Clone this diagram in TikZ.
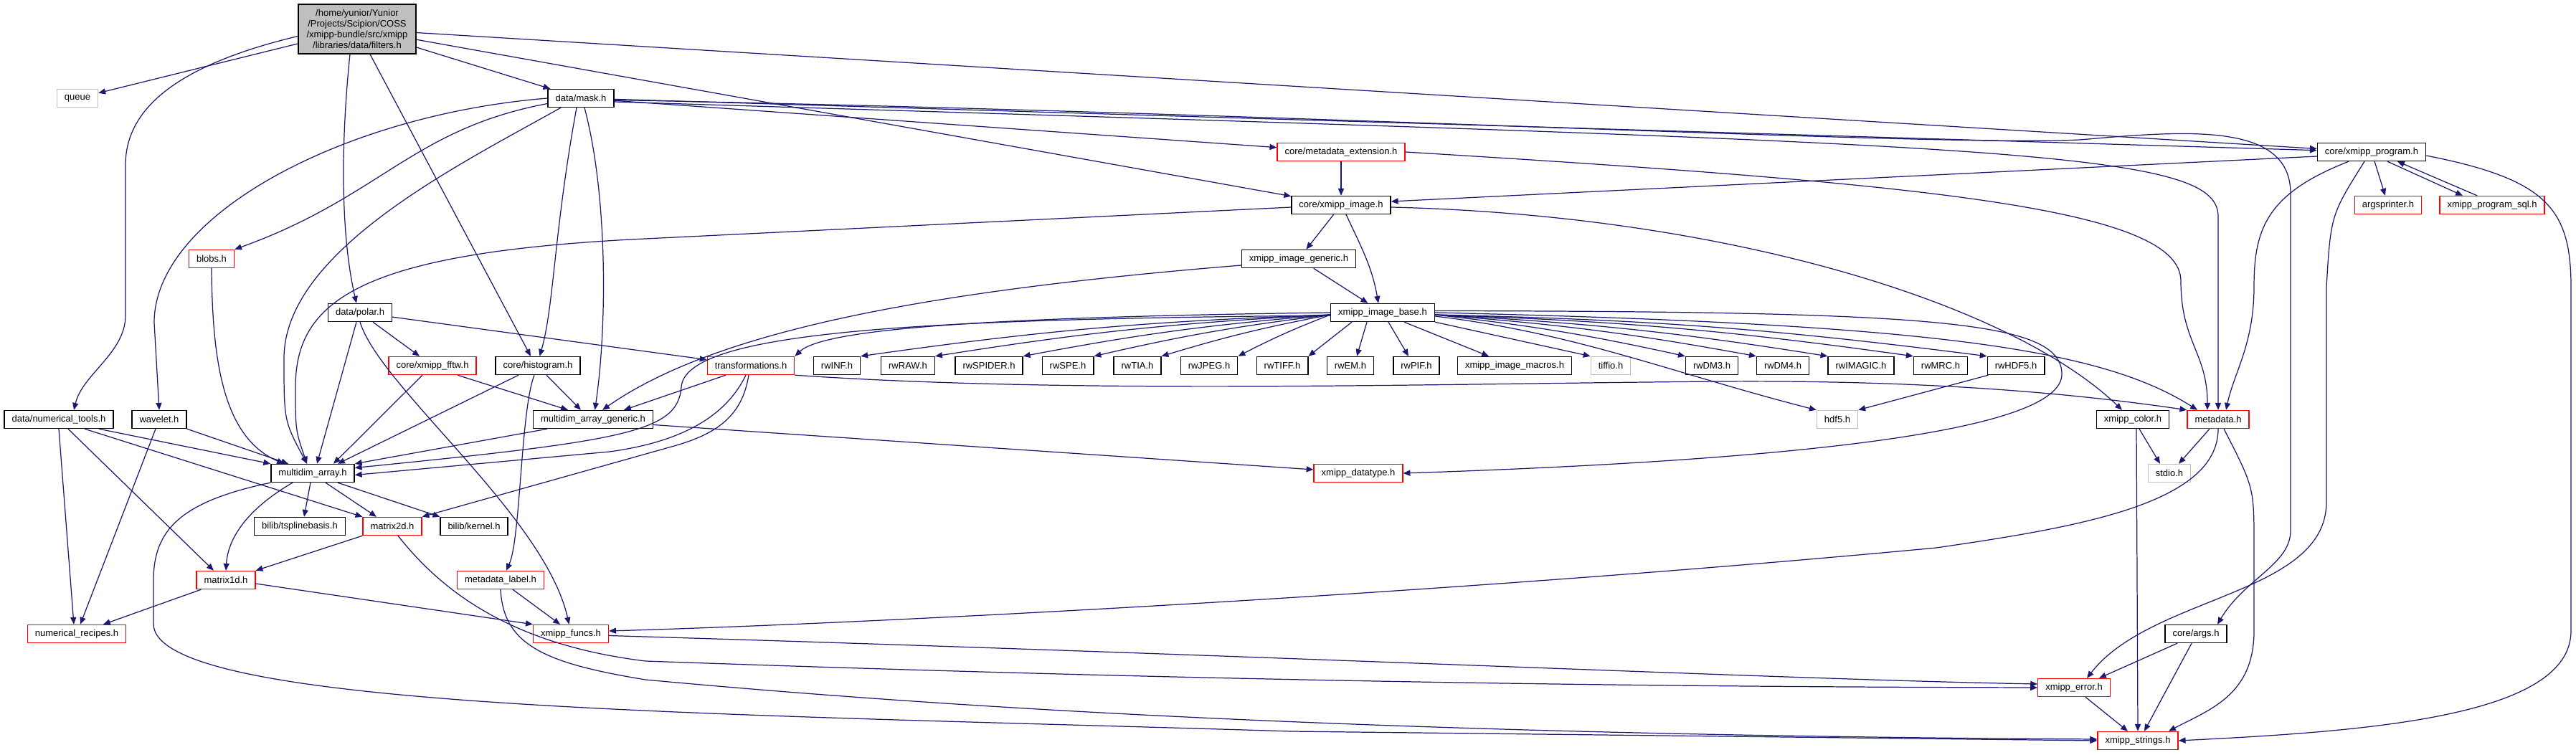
\documentclass[tikz,border=0pt]{standalone}
\usepackage{fontspec}
\setmainfont{Liberation Sans}
\usetikzlibrary{arrows.meta}
\definecolor{depline}{RGB}{25,25,112}
\definecolor{hdrgray}{RGB}{191,191,191}

\begin{document}
\begin{tikzpicture}[>={Stealth[length=5.6pt,width=4.6pt,inset=0pt]},
  font=\fontsize{7.4}{8.4}\selectfont,
  bx/.style={draw=black, line width=0.8pt, fill=white, minimum height=0.5cm,
    inner xsep=0.21cm, inner ysep=0pt},
  bxr/.style={bx, draw=red},
  bxg/.style={bx, draw=hdrgray},
  dep/.style={->, draw=depline, line width=0.7pt}]
\path[use as bounding box, fill=white] (0,0) rectangle (71.84,21.04);
% the file itself
\node[bx, fill=hdrgray, align=center, minimum width=3.28cm, minimum height=1.38cm]
  (root) at (9.96,20.23) {/home/yunior/Yunior\\/Projects/Scipion/COSS\\/xmipp-bundle/src/xmipp\\/libraries/data/filters.h};
% upper rows
\node[bxg] (queue) at (2.16,18.30) {queue};
\node[bx] (mask) at (16.20,18.30) {data/mask.h};
\node[bxr] (metaext) at (37.40,16.80) {core/metadata\_extension.h};
\node[bx] (program) at (66.14,16.80) {core/xmipp\_program.h};
\node[bx] (ximage) at (37.40,15.32) {core/xmipp\_image.h};
\node[bxr] (argsp) at (66.60,15.32) {argsprinter.h};
\node[bxr] (sql) at (69.50,15.32) {xmipp\_program\_sql.h};
\node[bxr] (blobs) at (5.90,13.82) {blobs.h};
\node[bx] (igen) at (36.22,13.82) {xmipp\_image\_generic.h};
\node[bx] (polar) at (10.04,12.32) {data/polar.h};
\node[bx] (ibase) at (38.56,12.32) {xmipp\_image\_base.h};
% row of readers
\node[bxr] (fftw) at (12.06,10.84) {core/xmipp\_fftw.h};
\node[bx] (hist) at (15.00,10.84) {core/histogram.h};
\node[bxr] (trans) at (20.94,10.84) {transformations.h};
\node[bx] (rwINF) at (23.34,10.84) {rwINF.h};
\node[bx] (rwRAW) at (25.32,10.84) {rwRAW.h};
\node[bx] (rwSPIDER) at (27.58,10.84) {rwSPIDER.h};
\node[bx] (rwSPE) at (29.78,10.84) {rwSPE.h};
\node[bx] (rwTIA) at (31.72,10.84) {rwTIA.h};
\node[bx] (rwJPEG) at (33.72,10.84) {rwJPEG.h};
\node[bx] (rwTIFF) at (35.76,10.84) {rwTIFF.h};
\node[bx] (rwEM) at (37.66,10.84) {rwEM.h};
\node[bx] (rwPIF) at (39.50,10.84) {rwPIF.h};
\node[bx] (macros) at (42.24,10.84) {xmipp\_image\_macros.h};
\node[bxg] (tiffio) at (44.92,10.84) {tiffio.h};
\node[bx] (rwDM3) at (47.74,10.84) {rwDM3.h};
\node[bx] (rwDM4) at (49.72,10.84) {rwDM4.h};
\node[bx] (rwIMAGIC) at (51.90,10.84) {rwIMAGIC.h};
\node[bx] (rwMRC) at (54.12,10.84) {rwMRC.h};
\node[bx] (rwHDF5) at (56.22,10.84) {rwHDF5.h};
% lower rows
\node[bx] (numtools) at (1.64,9.34) {data/numerical\_tools.h};
\node[bx] (wavelet) at (4.44,9.34) {wavelet.h};
\node[bx] (mdagen) at (16.54,9.34) {multidim\_array\_generic.h};
\node[bxg] (hdf5) at (51.24,9.34) {hdf5.h};
\node[bx] (color) at (59.48,9.34) {xmipp\_color.h};
\node[bxr] (metadata) at (61.86,9.34) {metadata.h};
\node[bx] (mda) at (8.72,7.84) {multidim\_array.h};
\node[bxr] (dtype) at (37.88,7.84) {xmipp\_datatype.h};
\node[bxg] (stdio) at (60.50,7.84) {stdio.h};
\node[bx] (tspline) at (8.36,6.36) {bilib/tsplinebasis.h};
\node[bxr] (m2d) at (10.94,6.36) {matrix2d.h};
\node[bx] (kernel) at (13.22,6.36) {bilib/kernel.h};
\node[bxr] (m1d) at (6.30,4.86) {matrix1d.h};
\node[bxr] (mdlabel) at (13.96,4.86) {metadata\_label.h};
\node[bxr] (numrec) at (2.14,3.36) {numerical\_recipes.h};
\node[bxr] (funcs) at (15.92,3.36) {xmipp\_funcs.h};
\node[bx] (args) at (61.24,3.36) {core/args.h};
\node[bxr] (error) at (57.84,1.86) {xmipp\_error.h};
\node[bxr] (strings) at (59.62,0.38) {xmipp\_strings.h};

% includes of filters.h
\draw[dep] (root) -- (queue);
\draw[dep] ([yshift=-0.2cm]root.west) .. controls (5.0,19.24) and (3.5,18.04) .. (3.5,16.44)
  -- (3.5,12.24) .. controls (3.5,11.2) and (2.3,10.6) .. ([xshift=0.42cm]numtools.north);
\draw[dep] ([xshift=-0.2cm]root.south) .. controls (9.5,17.0) and (9.5,14.5) .. ([xshift=-0.1cm]polar.north);
\draw[dep] ([xshift=0.36cm]root.south) -- ([xshift=-0.2cm]hist.north);
\draw[dep] (root) -- (mask);
\draw[dep] (root) -- (ximage);
\draw[dep] (root) -- (program);

% data/mask.h
\draw[dep] (mask.west) .. controls (9.6,17.84) and (4.3,15.04) .. (4.3,12.04) -- (wavelet.north);
\draw[dep] ([yshift=-0.15cm]mask.west) .. controls (11.5,17.44) and (10.6,15.54) .. (blobs.north east);
\draw[dep] ([xshift=-0.56cm]mask.south) .. controls (12.8,16.44) and (7.92,14.04) .. (7.92,11.04)
  .. controls (7.92,9.3) .. ([xshift=-0.16cm]mda.north);
\draw[dep] ([xshift=-0.12cm]mask.south) .. controls (15.45,14.6) and (15.45,12.5) .. ([xshift=0.05cm]hist.north);
\draw[dep] ([xshift=0.1cm]mask.south) .. controls (16.94,15.64) and (16.94,12.0) .. ([xshift=0.05cm]mdagen.north);
\draw[dep] (mask) -- (metaext);
\draw[dep] (mask) -- (program);
\draw[dep] ([yshift=-0.05cm]mask.east) .. controls (36,17.9) and (54,16.94) .. (58,17.14)
  .. controls (61,17.4) and (63.88,17.64) .. (63.88,15.64) -- (63.88,6.24)
  .. controls (63.88,5.3) and (62.6,4.9) .. ([xshift=0.6cm]args.north);
\draw[dep] ([yshift=-0.1cm]mask.east) .. controls (56,17.0) and (61.86,16.9) .. (61.86,15.0) -- (metadata.north);

% core/metadata_extension.h and core/xmipp_program.h
\draw[dep] (metaext) -- (ximage);
\draw[dep] (metaext.east) .. controls (54,15.9) and (60.82,15.2) .. (60.82,13.2)
  .. controls (60.82,11.5) and (61.56,11.2) .. ([xshift=-0.3cm]metadata.north);
\draw[dep] ([yshift=-0.12cm]program.west) -- ([yshift=0.1cm]ximage.east);
\draw[dep] (program) -- (argsp);
\draw[dep] ([xshift=0.44cm]program.south) -- ([xshift=-0.82cm]sql.north);
\draw[dep] ([xshift=-0.42cm]sql.north) -- ([xshift=0.72cm]program.south);
\draw[dep] ([xshift=-0.64cm]program.south) .. controls (63.2,15.64) and (62.86,14.64) .. (62.86,13.04)
  .. controls (62.86,11.44) and (62.3,10.64) .. ([xshift=0.22cm]metadata.north);
\draw[dep] ([xshift=-0.2cm]program.south) .. controls (65.0,15.04) .. (64.88,13.04) -- (64.88,7.04)
  .. controls (64.88,4.44) and (60,4.44) .. ([xshift=0.36cm]error.north);
\draw[dep] ([yshift=-0.1cm]program.east) .. controls (71.0,16.04) and (71.7,15.24) .. (71.7,13.04)
  -- (71.7,3.44) .. controls (71.7,1.04) and (66,0.64) .. (strings.east);

% core/xmipp_image.h
\draw[dep] (ximage) -- (igen);
\draw[dep] ([xshift=0.14cm]ximage.south) to[out=-65,in=100] ([xshift=-0.12cm]ibase.north);
\draw[dep] ([yshift=-0.06cm]ximage.west) -- (18,14.38) .. controls (10,14.0) and (8.24,12.64) .. (8.24,10.24)
  .. controls (8.24,9.04) .. ([xshift=-0.16cm]mda.north);
\draw[dep] ([yshift=-0.06cm]ximage.east) .. controls (48,15.04) and (56,12.64) .. ([xshift=-0.3cm]color.north);
\draw[dep] (igen) -- (ibase);
\draw[dep] ([yshift=-0.18cm]igen.west) .. controls (26,12.94) and (20,11.84) .. ([xshift=0.26cm]mdagen.north);

% xmipp_image_base.h fans out
\draw[dep] (ibase.west) .. controls (28,12.2) and (23.0,11.9) .. (trans.north east);
\foreach \n in {rwINF,rwRAW,rwSPIDER,rwSPE,rwTIA,rwJPEG}
  \draw[dep] ([yshift=-0.06cm]ibase.west) to[bend right=3] (\n.north east);
\draw[dep] ([xshift=0.6cm]ibase.south west) -- (rwTIFF.north east);
\draw[dep] ([xshift=-0.44cm]ibase.south) -- ([xshift=0.18cm]rwEM.north);
\draw[dep] ([xshift=0.16cm]ibase.south) -- ([xshift=-0.22cm]rwPIF.north);
\draw[dep] ([xshift=0.6cm]ibase.south) -- ([xshift=-0.72cm]macros.north);
\draw[dep] (ibase.south east) -- (tiffio.north west);
\foreach \n in {rwDM3,rwDM4,rwIMAGIC,rwMRC,rwHDF5}
  \draw[dep] ([yshift=-0.06cm]ibase.east) to[bend left=3] (\n.north west);
\draw[dep] ([yshift=-0.1cm]ibase.east) .. controls (44,11.74) and (46.6,10.64) .. (hdf5.north west);
\draw[dep] (ibase.east) .. controls (54,12.0) and (58.6,11.3) .. ([xshift=-0.58cm]metadata.north);
\draw[dep] ([yshift=0.05cm]ibase.east) .. controls (54,12.35) and (57.5,12.1) .. (57.5,10.6)
  .. controls (57.5,9.0) and (50,8.2) .. (dtype.east);
\draw[dep] ([yshift=-0.08cm]ibase.west) .. controls (26,12.14) and (19.1,11.84) .. (19,10.24)
  .. controls (18.9,9.0) and (17.5,8.75) .. ([yshift=0.15cm]mda.east);
\draw[dep] ([xshift=0.04cm]rwHDF5.south west) -- (hdf5.north east);

% data/polar.h, fftw, histogram
\draw[dep] (polar) -- (fftw);
\draw[dep] (polar) -- (trans);
\draw[dep] ([xshift=-0.1cm]polar.south) -- ([xshift=0.12cm]mda.north);
\draw[dep] (polar.south) .. controls (10.6,10.24) and (15.2,6.64) .. ([xshift=-0.05cm]funcs.north);
\draw[dep] ([xshift=-0.28cm]fftw.south) -- ([xshift=0.58cm]mda.north);
\draw[dep] ([xshift=0.7cm]fftw.south) -- ([xshift=-0.7cm]mdagen.north);
\draw[dep] ([xshift=-0.54cm]hist.south) -- ([xshift=0.7cm]mda.north);
\draw[dep] ([xshift=0.24cm]hist.south) -- ([xshift=-0.34cm]mdagen.north);
\draw[dep] ([xshift=-0.1cm]hist.south) .. controls (14.52,9.6) and (14.52,6.0) .. ([xshift=0.16cm]mdlabel.north);

% transformations.h
\draw[dep] ([xshift=-0.7cm]trans.south) -- ([xshift=0.86cm]mdagen.north);
\draw[dep] ([xshift=-0.14cm]trans.south) .. controls (20.3,9.54) and (19.2,8.74) .. (17,8.44)
  -- ([yshift=-0.05cm]mda.east);
\draw[dep] ([xshift=-0.06cm]trans.south) .. controls (20.7,9.44) and (20,8.94) .. (18.8,8.6) -- (m2d.north east);
\draw[dep] (trans.south east) .. controls (30,10.04) and (40,10.34) .. (48,10.4)
  .. controls (54,10.44) and (58,10.04) .. (metadata.north west);

% multidim arrays and friends
\draw[dep] ([xshift=-1.28cm]mdagen.south) -- (mda.north east);
\draw[dep] ([yshift=-0.15cm]mdagen.east) -- ([yshift=0.1cm]dtype.west);
\draw[dep] (blobs.south) .. controls (5.92,11.04) and (6.2,8.84) .. ([xshift=-0.8cm]mda.north);
\draw[dep] (numtools.south) -- ([xshift=-0.08cm]numrec.north);
\draw[dep] ([xshift=0.26cm]numtools.south) -- ([xshift=-0.34cm]m1d.north);
\draw[dep] ([xshift=1.12cm]numtools.south) -- (mda.north west);
\draw[dep] ([xshift=0.72cm]numtools.south) -- (m2d.north west);
\draw[dep] (wavelet.south east) -- ([xshift=-0.68cm]mda.north);
\draw[dep] ([xshift=-0.1cm]wavelet.south) -- ([xshift=0.1cm]numrec.north);
\draw[dep] ([xshift=-0.06cm]mda.south) -- ([xshift=0.12cm]tspline.north);
\draw[dep] ([xshift=0.36cm]mda.south) -- ([xshift=-0.44cm]m2d.north);
\draw[dep] ([xshift=0.7cm]mda.south) -- (kernel.north west);
\draw[dep] ([xshift=-0.56cm]mda.south) .. controls (6.9,6.84) and (6.36,6.04) .. (m1d.north);
\draw[dep] (mda.south west) .. controls (5,7.04) and (4.28,6.24) .. (4.28,4.84) -- (4.28,3.64)
  .. controls (4.28,1.24) and (20,1.14) .. (36,0.64) -- (strings.west);
\draw[dep] (m2d.south west) -- (m1d.north east);
\draw[dep] ([xshift=0.16cm]m2d.south) .. controls (12.4,4.44) and (14.4,3.04) .. (18,2.6)
  .. controls (36,1.96) and (48,1.88) .. (error.west);
\draw[dep] ([xshift=0.14cm]m1d.south west) -- ([xshift=0.74cm]numrec.north);
\draw[dep] ([yshift=-0.1cm]m1d.east) -- (funcs.north west);
\draw[dep] ([xshift=0.34cm]mdlabel.south) -- ([xshift=-0.3cm]funcs.north);
\draw[dep] (mdlabel.south) .. controls (14.04,3.04) and (15.2,2.54) .. (18,2.08)
  .. controls (26,1.34) and (38,0.54) .. ([yshift=0.04cm]strings.west);
\draw[dep] ([yshift=-0.05cm]funcs.east) .. controls (36,2.74) and (50,2.08) .. ([yshift=0.1cm]error.west);

% metadata.h, xmipp_color.h, core/args.h, xmipp_error.h
\draw[dep] ([xshift=-0.24cm]metadata.south) -- ([xshift=0.26cm]stdio.north);
\draw[dep] (metadata.south) .. controls (61.86,7.0) and (58,6.34) .. (54,5.76)
  .. controls (40,4.44) and (24,3.64) .. ([yshift=0.08cm]funcs.east);
\draw[dep] ([xshift=0.16cm]metadata.south) .. controls (62.86,7.44) .. (62.86,5.84) -- (62.86,3.44)
  .. controls (62.86,1.64) and (61.6,1.24) .. ([xshift=0.86cm]strings.north);
\draw[dep] ([xshift=0.18cm]color.south) -- ([xshift=-0.26cm]stdio.north);
\draw[dep] ([xshift=0.1cm]color.south) -- (strings.north);
\draw[dep] ([xshift=-0.52cm]args.south) -- ([xshift=0.7cm]error.north);
\draw[dep] ([xshift=-0.12cm]args.south) -- ([xshift=0.18cm]strings.north);
\draw[dep] ([xshift=0.32cm]error.south) -- ([xshift=-0.28cm]strings.north);
\end{tikzpicture}
\end{document}
